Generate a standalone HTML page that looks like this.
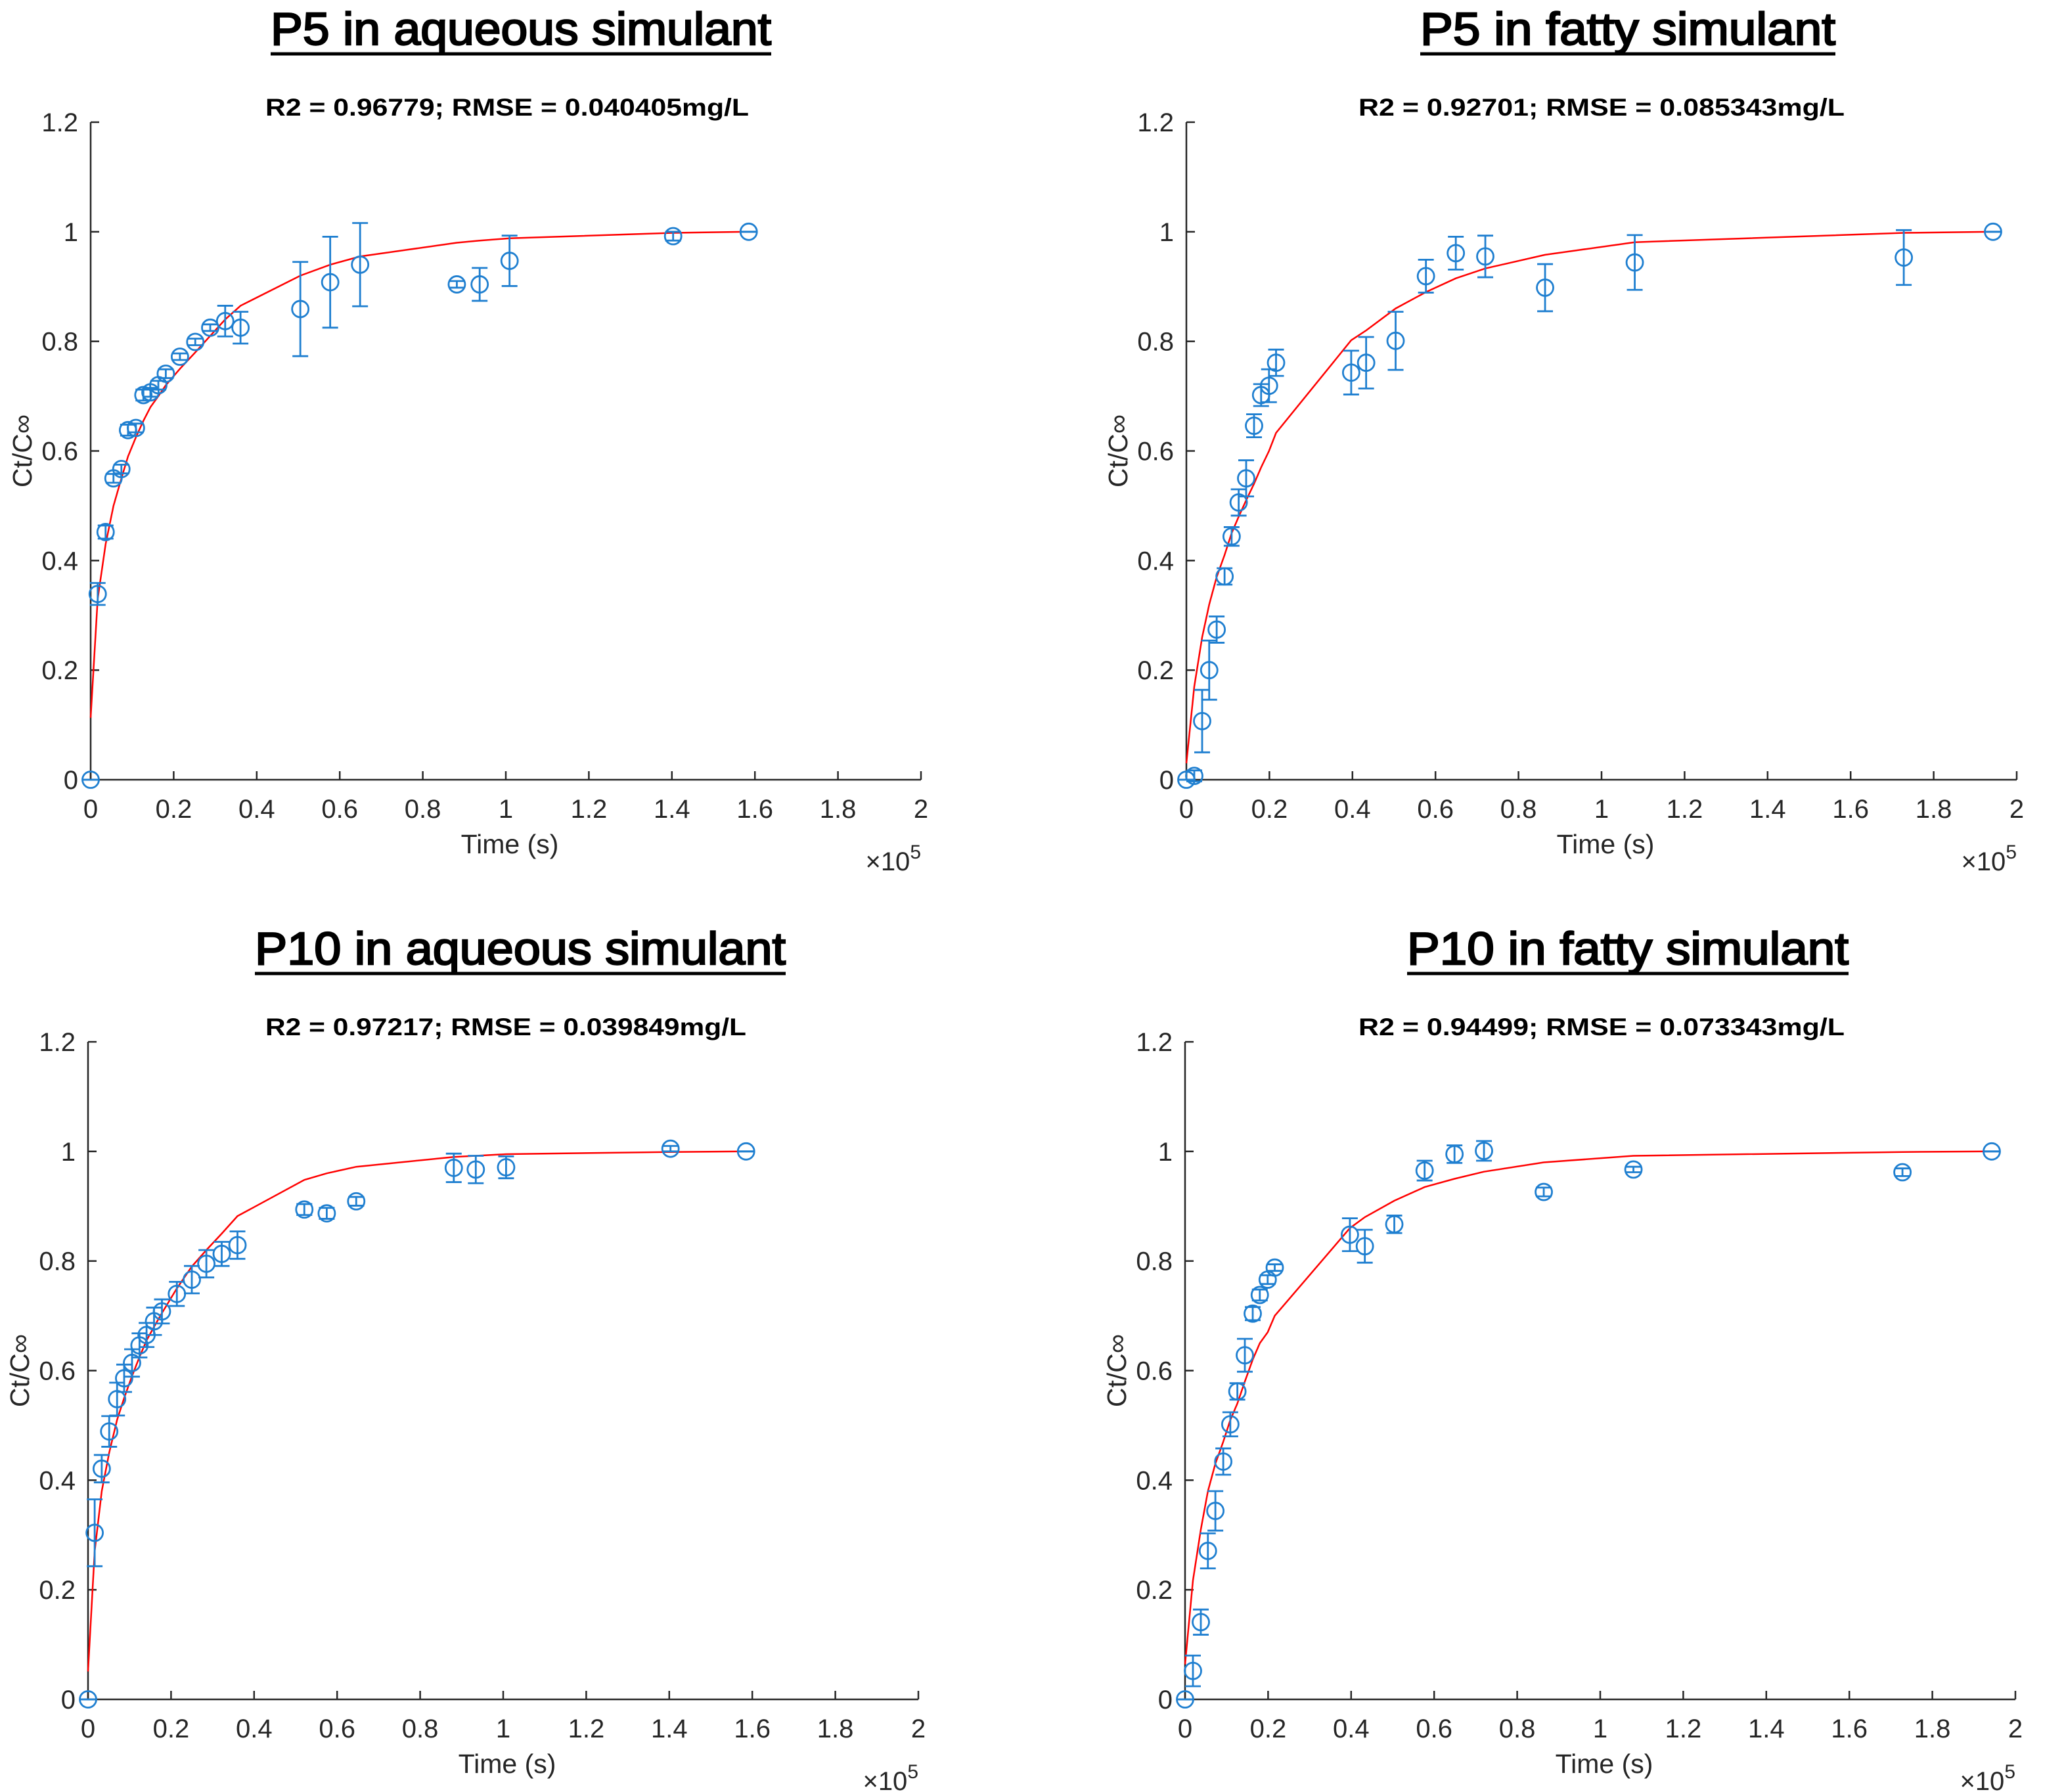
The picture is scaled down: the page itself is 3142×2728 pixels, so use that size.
<!DOCTYPE html>
<html><head><meta charset="utf-8"><style>
html,body{margin:0;padding:0;background:#fff;}
svg{display:block;}
</style></head><body>
<svg id="fig" width="3142" height="2728" viewBox="0 0 3142 2728" xmlns="http://www.w3.org/2000/svg" font-family="Liberation Sans, Arial, sans-serif"></svg>
<script>
// ---- data (x in 1e5 s, y = Ct/Cinf, err = half error bar) ----
const p5aqX   = [0,0.017,0.036,0.055,0.074,0.090,0.109,0.127,0.144,0.163,0.181,0.215,0.252,0.288,0.324,0.361,0.505,0.577,0.649,0.882,0.937,1.009,1.403,1.585];
const p5aqY   = [0,0.339,0.452,0.550,0.567,0.638,0.642,0.702,0.707,0.720,0.741,0.772,0.799,0.825,0.837,0.825,0.859,0.908,0.940,0.904,0.904,0.947,0.992,1.000];
const p5aqE   = [0,0.020,0.012,0.008,0.008,0.010,0.008,0.010,0.008,0.008,0.008,0.006,0.006,0.006,0.028,0.029,0.086,0.083,0.076,0.006,0.030,0.046,0.008,0];
const p5aqFit = [0.113,0.33,0.43,0.50,0.55,0.59,0.625,0.655,0.68,0.70,0.72,0.75,0.78,0.81,0.84,0.865,0.92,0.94,0.955,0.98,0.984,0.988,0.998,1.0];

const p5fX   = [0,0.019,0.038,0.055,0.073,0.092,0.109,0.126,0.144,0.163,0.180,0.199,0.216,0.397,0.433,0.504,0.577,0.649,0.720,0.864,1.080,1.728,1.943];
const p5fY   = [0,0.007,0.107,0.200,0.274,0.371,0.444,0.506,0.550,0.646,0.702,0.719,0.761,0.743,0.761,0.801,0.919,0.961,0.955,0.898,0.944,0.953,1.000];
const p5fE   = [0,0.010,0.057,0.054,0.024,0.015,0.017,0.024,0.033,0.021,0.020,0.030,0.024,0.040,0.047,0.053,0.030,0.030,0.038,0.043,0.050,0.050,0];
const p5fFit = [0.03,0.17,0.26,0.32,0.37,0.41,0.45,0.48,0.51,0.54,0.57,0.60,0.633,0.802,0.82,0.86,0.89,0.915,0.933,0.958,0.981,0.998,1.0];

const p10aqX   = [0,0.016,0.033,0.051,0.070,0.087,0.106,0.124,0.141,0.159,0.178,0.214,0.250,0.285,0.322,0.360,0.521,0.575,0.646,0.881,0.934,1.007,1.403,1.585];
const p10aqY   = [0,0.304,0.421,0.489,0.548,0.586,0.614,0.646,0.665,0.690,0.708,0.740,0.766,0.795,0.813,0.829,0.894,0.887,0.909,0.970,0.967,0.971,1.005,1.000];
const p10aqE   = [0,0.061,0.025,0.028,0.030,0.025,0.025,0.022,0.022,0.025,0.022,0.022,0.025,0.025,0.022,0.025,0.010,0.010,0.008,0.026,0.025,0.020,0.005,0];
const p10aqFit = [0.051,0.27,0.38,0.45,0.51,0.55,0.59,0.625,0.655,0.68,0.705,0.75,0.79,0.82,0.85,0.882,0.948,0.96,0.972,0.99,0.992,0.995,0.999,1.0];

const p10fX   = [0,0.019,0.038,0.055,0.073,0.092,0.109,0.126,0.144,0.163,0.180,0.199,0.216,0.397,0.433,0.504,0.577,0.649,0.720,0.864,1.080,1.728,1.943];
const p10fY   = [0,0.052,0.141,0.271,0.344,0.434,0.502,0.562,0.628,0.704,0.738,0.766,0.788,0.848,0.827,0.867,0.965,0.995,1.001,0.926,0.967,0.962,1.000];
const p10fE   = [0,0.028,0.023,0.032,0.036,0.024,0.022,0.015,0.030,0.012,0.010,0.008,0.006,0.030,0.030,0.016,0.018,0.016,0.018,0.008,0.005,0.007,0];
const p10fFit = [0.064,0.217,0.31,0.38,0.43,0.47,0.51,0.54,0.58,0.62,0.65,0.67,0.70,0.86,0.88,0.91,0.935,0.95,0.963,0.98,0.992,0.999,1.0];

const xTicks = [0,0.2,0.4,0.6,0.8,1,1.2,1.4,1.6,1.8,2];
const xTickLabels = ["0","0.2","0.4","0.6","0.8","1","1.2","1.4","1.6","1.8","2"];
const yTicks = [0,0.2,0.4,0.6,0.8,1,1.2];
const yTickLabels = ["0","0.2","0.4","0.6","0.8","1","1.2"];

const NS = "http://www.w3.org/2000/svg";
const svg = document.getElementById('fig');
function mk(tag, attrs, parent, text){
  const e = document.createElementNS(NS, tag);
  for (const k in attrs) e.setAttribute(k, attrs[k]);
  if (text !== undefined) e.textContent = text;
  (parent||svg).appendChild(e);
  return e;
}

const panels = [
  {key:'p5-aqueous', title:'P5 in aqueous simulant', sub:'R2 = 0.96779; RMSE = 0.040405mg/L',
   x0:138, x1:1402, yb:1187, yt:186, tx0:412, tx1:1174, sx0:404, sx1:1140,
   X:p5aqX, Y:p5aqY, E:p5aqE, F:p5aqFit},
  {key:'p5-fatty', title:'P5 in fatty simulant', sub:'R2 = 0.92701; RMSE = 0.085343mg/L',
   x0:1806, x1:3070, yb:1187, yt:186, tx0:2162, tx1:2794, sx0:2068, sx1:2808,
   X:p5fX, Y:p5fY, E:p5fE, F:p5fFit},
  {key:'p10-aqueous', title:'P10 in aqueous simulant', sub:'R2 = 0.97217; RMSE = 0.039849mg/L',
   x0:134, x1:1398, yb:2587, yt:1586, tx0:388, tx1:1196, sx0:404, sx1:1136,
   X:p10aqX, Y:p10aqY, E:p10aqE, F:p10aqFit},
  {key:'p10-fatty', title:'P10 in fatty simulant', sub:'R2 = 0.94499; RMSE = 0.073343mg/L',
   x0:1804, x1:3068, yb:2587, yt:1586, tx0:2142, tx1:2814, sx0:2068, sx1:2808,
   X:p10fX, Y:p10fY, E:p10fE, F:p10fFit}
];

panels.forEach(p => {
  const g = mk('g', {});
  
  
  const xs = v => p.x0 + (v/2)*(p.x1-p.x0);
  const ys = v => p.yb - (v/1.2)*(p.yb-p.yt);
  const axc = '#262626';

  const t = mk('text', {x:p.tx0, y:p.yt-118, 'font-size':70, fill:'#000', stroke:'#000', 'stroke-width':2.4,
    textLength:(p.tx1-p.tx0), lengthAdjust:'spacingAndGlyphs'}, g, p.title);
  
  
  const ul = mk('line', {x1:p.tx0, x2:p.tx1, y1:p.yt-104, y2:p.yt-104, stroke:'#000', 'stroke-width':5}, g);
  
  
  const s = mk('text', {x:p.sx0, y:p.yt-10, 'font-size':37, 'font-weight':'bold', fill:'#000',
    textLength:(p.sx1-p.sx0), lengthAdjust:'spacingAndGlyphs'}, g, p.sub);
  
  

  const ax = mk('path', {d:`M${p.x0},${p.yt} V${p.yb} H${p.x1}`, fill:'none', stroke:axc, 'stroke-width':2.5}, g);
  
  
  xTicks.forEach((v,i) => {
    const x = xs(v);
    const tk = mk('line', {x1:x, x2:x, y1:p.yb, y2:p.yb-13, stroke:axc, 'stroke-width':2.5}, g);
    
    
    const tl = mk('text', {x:x, y:p.yb+58, 'font-size':40, fill:axc, 'text-anchor':'middle'}, g, xTickLabels[i]);
    
    
  });
  yTicks.forEach((v,i) => {
    const y = ys(v);
    const tk = mk('line', {x1:p.x0, x2:p.x0+13, y1:y, y2:y, stroke:axc, 'stroke-width':2.5}, g);
    
    
    const tl = mk('text', {x:p.x0-19, y:y+14, 'font-size':40, fill:axc, 'text-anchor':'end'}, g, yTickLabels[i]);
    
    
  });
  const xl = mk('text', {x:(p.x0+p.x1)/2+6, y:p.yb+112, 'font-size':41, fill:axc, 'text-anchor':'middle'}, g, 'Time (s)');
  
  
  const ex = mk('text', {x:p.x1, y:p.yb+138, 'font-size':40, fill:axc, 'text-anchor':'end'}, g);
  
  
  mk('tspan', {}, ex, '\u00d710');
  mk('tspan', {dy:-18, 'font-size':30}, ex, '5');
  const ymid = (p.yb+p.yt)/2;
  const yl = mk('text', {x:p.x0-90, y:ymid, 'font-size':41, fill:axc, 'text-anchor':'middle',
    transform:`rotate(-90 ${p.x0-90} ${ymid})`}, g, 'Ct/C\u221e');
  
  

  const d = p.X.map((v,i) => (i?'L':'M') + xs(v).toFixed(1) + ',' + ys(p.F[i]).toFixed(1)).join(' ');
  const fl = mk('path', {d:d, fill:'none', stroke:'#ff0000', 'stroke-width':2.5}, g);
  
  

  const blue = '#1f7fd0';
  p.X.forEach((v,i) => {
    const cx = xs(v), cy = ys(p.Y[i]);
    const ylo = ys(p.Y[i]-p.E[i]), yhi = ys(p.Y[i]+p.E[i]);
    const pg = mk('g', {stroke:blue, 'stroke-width':2.8, fill:'none'}, g);
    
    
    mk('line', {x1:cx, x2:cx, y1:ylo, y2:yhi}, pg);
    mk('line', {x1:cx-12, x2:cx+12, y1:ylo, y2:ylo}, pg);
    mk('line', {x1:cx-12, x2:cx+12, y1:yhi, y2:yhi}, pg);
    mk('circle', {cx:cx, cy:cy, r:12.5}, pg);
  });
});
</script>
</body></html>
